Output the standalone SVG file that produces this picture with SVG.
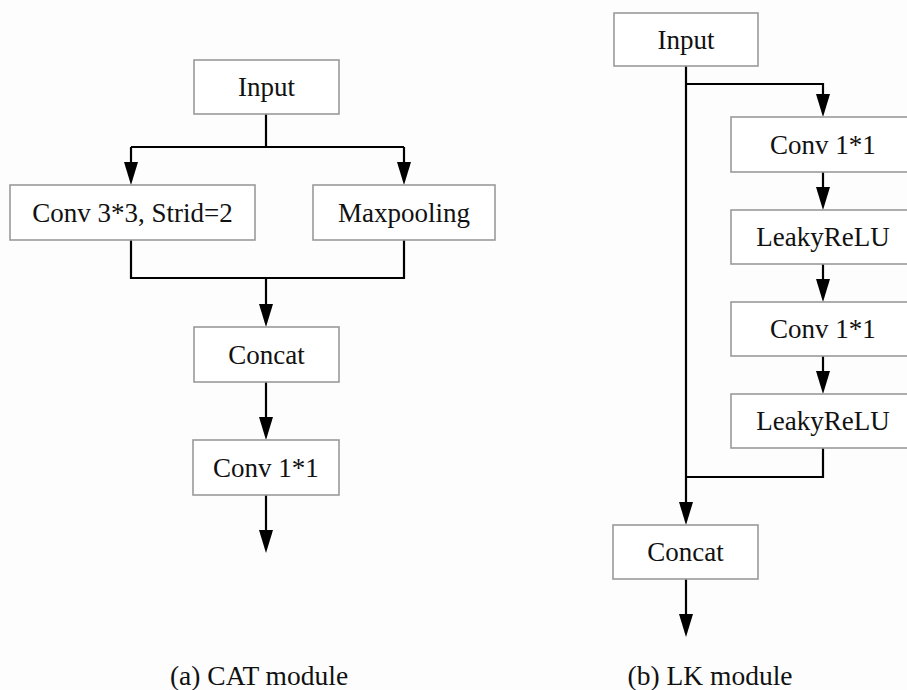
<svg xmlns="http://www.w3.org/2000/svg" width="907" height="690" viewBox="0 0 907 690">
<style>
.box{fill:#ffffff;stroke:#9a9a9a;stroke-width:1.6}
.lbl{font-family:"Liberation Serif","Times New Roman",serif;font-size:27px;fill:#111;text-anchor:middle}
.cap{font-family:"Liberation Serif","Times New Roman",serif;font-size:27.5px;fill:#111;text-anchor:middle}
.ln{fill:none;stroke:#000;stroke-width:2.2}
.ar{fill:none;stroke:#000;stroke-width:2.2;marker-end:url(#ah)}
</style>
<defs>
<marker id="ah" markerUnits="userSpaceOnUse" markerWidth="24" markerHeight="16" refX="19" refY="7" orient="auto">
<path d="M0,0 L23,7 L0,14 z" fill="#000"/>
</marker>
</defs>
<rect x="0" y="0" width="907" height="690" fill="#fdfdfd"/>

<g id="connectors">
<!-- left panel -->
<polyline class="ln" points="266,114 266,147"/>
<polyline class="ln" points="131,147 404,147"/>
<polyline class="ar" points="131,147 131,181"/>
<polyline class="ar" points="404,147 404,181"/>
<polyline class="ln" points="131,240 131,278 404,278 404,240"/>
<polyline class="ar" points="266,278 266,323"/>
<polyline class="ar" points="266,382 266,436"/>
<polyline class="ar" points="266,495 266,549"/>
<!-- right panel -->
<polyline class="ar" points="686,66 686,521"/>
<polyline class="ar" points="686,84 823,84 823,113"/>
<polyline class="ar" points="823,172 823,206"/>
<polyline class="ar" points="823,264 823,298"/>
<polyline class="ar" points="823,356 823,390"/>
<polyline class="ln" points="823,448 823,477 686,477"/>
<polyline class="ar" points="686,579 686,633"/>
</g>

<g id="a-input"><rect class="box" x="194" y="60" width="145" height="54"/><text class="lbl" x="266.5" y="96">Input</text></g>
<g id="a-conv3"><rect class="box" x="10" y="185" width="245" height="55"/><text class="lbl" x="132.5" y="221.5">Conv 3*3, Strid=2</text></g>
<g id="a-maxpool"><rect class="box" x="313" y="185" width="182" height="55"/><text class="lbl" x="404" y="221.5">Maxpooling</text></g>
<g id="a-concat"><rect class="box" x="194" y="327" width="145" height="55"/><text class="lbl" x="266.5" y="363.5">Concat</text></g>
<g id="a-conv1"><rect class="box" x="193" y="440" width="146" height="55"/><text class="lbl" x="266" y="476.5">Conv 1*1</text></g>
<g id="a-caption"><text class="cap" x="259" y="685">(a) CAT module</text></g>

<g id="b-input"><rect class="box" x="614" y="13" width="144" height="53"/><text class="lbl" x="686" y="48.5">Input</text></g>
<g id="b-conv1a"><rect class="box" x="731" y="117" width="184" height="55"/><text class="lbl" x="823" y="153.5">Conv 1*1</text></g>
<g id="b-leaky1"><rect class="box" x="731" y="210" width="184" height="54"/><text class="lbl" x="823" y="246">LeakyReLU</text></g>
<g id="b-conv1b"><rect class="box" x="731" y="302" width="184" height="54"/><text class="lbl" x="823" y="338">Conv 1*1</text></g>
<g id="b-leaky2"><rect class="box" x="731" y="394" width="184" height="54"/><text class="lbl" x="823" y="430">LeakyReLU</text></g>
<g id="b-concat"><rect class="box" x="613" y="525" width="145" height="54"/><text class="lbl" x="685.5" y="561">Concat</text></g>
<g id="b-caption"><text class="cap" x="710" y="685">(b) LK module</text></g>
</svg>
